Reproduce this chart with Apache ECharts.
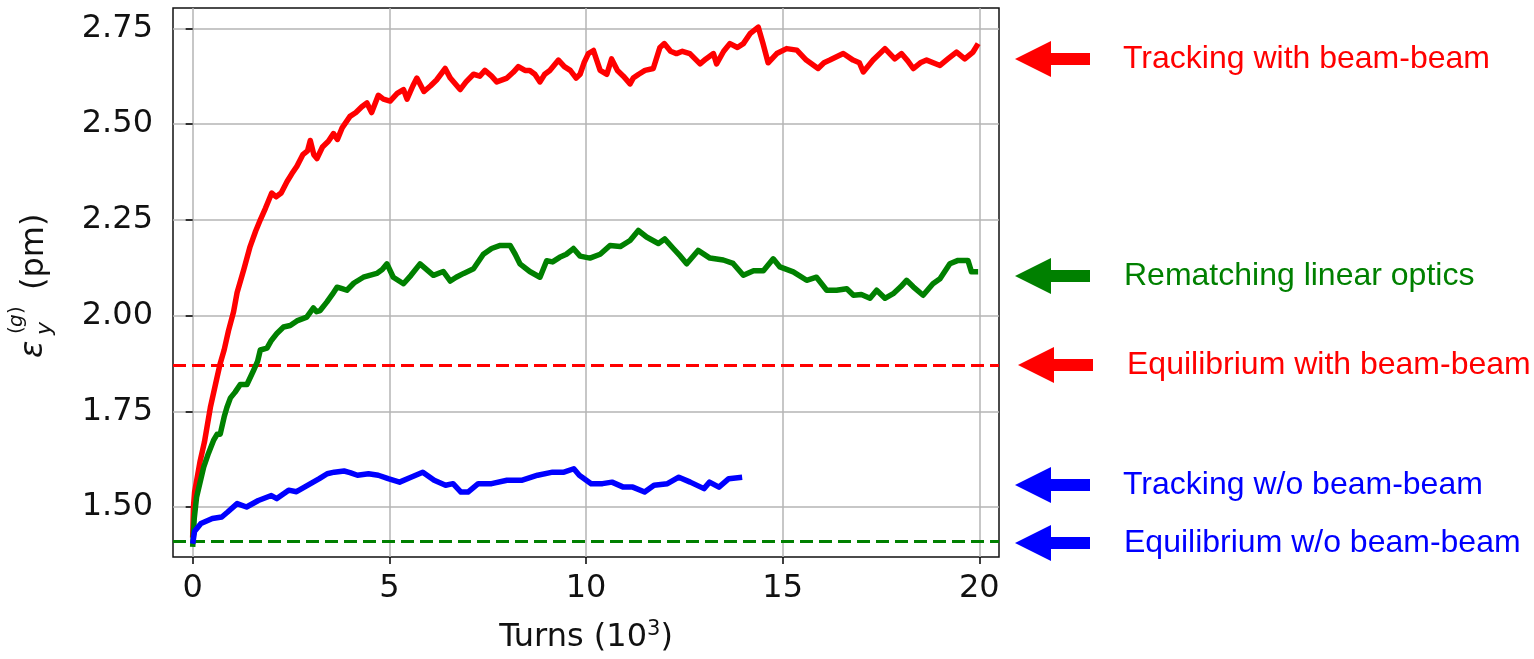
<!DOCTYPE html>
<html>
<head>
<meta charset="utf-8">
<script src="https://cdn.jsdelivr.net/npm/echarts@6/dist/echarts.min.js"></script>
<style>
  html, body { margin: 0; padding: 0; background: #ffffff; }
  #chart { width: 1534px; height: 659px; }
</style>
</head>
<body>
<div id="chart"></div>
<script>
// Vertical emittance growth vs. turns (values in pm, turns in units of 10^3)
const turnTicks = [0, 5, 10, 15, 20];
const epsTicks = [1.50, 1.75, 2.00, 2.25, 2.50, 2.75];

const equilibriumWithBB = 1.874;
const equilibriumWithoutBB = 1.4105;

// Tracking with beam-beam
const redTurns = [0, 0.02, 0.05, 0.12, 0.19, 0.3, 0.45, 0.58, 0.70, 0.8, 0.91, 1.04, 1.13, 1.3, 1.46, 1.6, 1.72, 1.85, 2.01, 2.12, 2.25, 2.4, 2.52, 2.65, 2.8, 2.92, 2.99, 3.08, 3.16, 3.3, 3.45, 3.58, 3.68, 3.8, 4.0, 4.15, 4.3, 4.43, 4.55, 4.72, 4.85, 5.02, 5.2, 5.36, 5.45, 5.6, 5.7, 5.88, 6.05, 6.2, 6.42, 6.55, 6.8, 6.95, 7.14, 7.3, 7.43, 7.6, 7.73, 7.99, 8.15, 8.28, 8.45, 8.57, 8.7, 8.83, 8.95, 9.08, 9.30, 9.45, 9.6, 9.75, 9.85, 9.95, 10.06, 10.19, 10.36, 10.53, 10.65, 10.8, 10.95, 11.12, 11.2, 11.34, 11.5, 11.71, 11.88, 11.99, 12.15, 12.3, 12.45, 12.64, 12.9, 13.05, 13.24, 13.32, 13.5, 13.66, 13.85, 14.0, 14.17, 14.38, 14.5, 14.63, 14.85, 15.1, 15.36, 15.6, 15.9, 16.05, 16.2, 16.54, 16.79, 16.95, 17.05, 17.3, 17.6, 17.85, 18.02, 18.18, 18.32, 18.5, 18.66, 19.0, 19.2, 19.42, 19.63, 19.84, 19.97];
const redEps = [1.42, 1.50, 1.54, 1.58, 1.62, 1.67, 1.76, 1.82, 1.875, 1.91, 1.96, 2.01, 2.06, 2.12, 2.18, 2.22, 2.25, 2.28, 2.32, 2.31, 2.32, 2.35, 2.37, 2.39, 2.42, 2.43, 2.457, 2.42, 2.41, 2.44, 2.455, 2.475, 2.46, 2.49, 2.52, 2.53, 2.545, 2.555, 2.53, 2.575, 2.565, 2.56, 2.58, 2.59, 2.565, 2.60, 2.62, 2.585, 2.60, 2.615, 2.645, 2.62, 2.59, 2.61, 2.63, 2.625, 2.64, 2.625, 2.61, 2.62, 2.635, 2.65, 2.64, 2.64, 2.63, 2.61, 2.63, 2.64, 2.667, 2.65, 2.64, 2.62, 2.63, 2.66, 2.684, 2.692, 2.64, 2.63, 2.67, 2.64, 2.625, 2.605, 2.62, 2.63, 2.64, 2.645, 2.70, 2.71, 2.69, 2.684, 2.69, 2.684, 2.657, 2.67, 2.684, 2.657, 2.69, 2.71, 2.70, 2.71, 2.736, 2.753, 2.71, 2.66, 2.684, 2.697, 2.693, 2.667, 2.645, 2.66, 2.667, 2.684, 2.667, 2.66, 2.636, 2.667, 2.697, 2.67, 2.684, 2.665, 2.645, 2.66, 2.667, 2.653, 2.67, 2.688, 2.67, 2.688, 2.71];

// Rematching linear optics
const greenTurns = [0, 0.04, 0.1, 0.28, 0.4, 0.53, 0.62, 0.70, 0.8, 0.87, 0.96, 1.08, 1.21, 1.38, 1.55, 1.65, 1.72, 1.89, 2.0, 2.14, 2.31, 2.48, 2.65, 2.9, 3.07, 3.15, 3.24, 3.41, 3.55, 3.67, 3.8, 3.92, 4.1, 4.34, 4.5, 4.68, 4.82, 4.94, 5.1, 5.36, 5.55, 5.78, 5.95, 6.12, 6.37, 6.55, 6.7, 6.89, 7.14, 7.39, 7.6, 7.82, 8.07, 8.2, 8.32, 8.57, 8.83, 9.0, 9.15, 9.33, 9.5, 9.68, 9.85, 10.1, 10.36, 10.61, 10.87, 11.12, 11.33, 11.54, 11.84, 12.0, 12.22, 12.4, 12.56, 12.85, 13.15, 13.49, 13.74, 14.0, 14.26, 14.51, 14.76, 14.93, 15.27, 15.61, 15.86, 16.12, 16.37, 16.63, 16.8, 17.0, 17.22, 17.39, 17.6, 17.81, 18.0, 18.15, 18.32, 18.57, 18.82, 19.0, 19.25, 19.46, 19.71, 19.8, 19.97];
const greenEps = [1.396, 1.47, 1.526, 1.604, 1.64, 1.674, 1.69, 1.69, 1.735, 1.76, 1.785, 1.80, 1.82, 1.82, 1.857, 1.88, 1.91, 1.915, 1.935, 1.953, 1.97, 1.974, 1.986, 1.996, 2.02, 2.01, 2.013, 2.035, 2.055, 2.074, 2.07, 2.066, 2.085, 2.10, 2.105, 2.11, 2.12, 2.135, 2.10, 2.083, 2.105, 2.135, 2.12, 2.105, 2.115, 2.09, 2.10, 2.11, 2.122, 2.16, 2.175, 2.183, 2.183, 2.16, 2.135, 2.115, 2.10, 2.143, 2.14, 2.152, 2.16, 2.175, 2.155, 2.15, 2.16, 2.183, 2.18, 2.196, 2.222, 2.205, 2.188, 2.20, 2.175, 2.155, 2.135, 2.17, 2.15, 2.145, 2.136, 2.105, 2.117, 2.117, 2.148, 2.127, 2.114, 2.092, 2.10, 2.066, 2.066, 2.07, 2.053, 2.055, 2.045, 2.066, 2.045, 2.057, 2.075, 2.092, 2.075, 2.053, 2.083, 2.096, 2.135, 2.144, 2.144, 2.114, 2.114];

// Tracking without beam-beam
const blueTurns = [0, 0.05, 0.21, 0.5, 0.74, 0.89, 1.13, 1.37, 1.67, 2.0, 2.14, 2.44, 2.64, 2.93, 3.22, 3.42, 3.6, 3.85, 4.0, 4.19, 4.47, 4.72, 4.97, 5.26, 5.55, 5.85, 6.14, 6.43, 6.62, 6.82, 7.0, 7.26, 7.6, 7.99, 8.38, 8.77, 9.15, 9.44, 9.69, 9.83, 10.13, 10.42, 10.66, 10.95, 11.19, 11.49, 11.73, 12.07, 12.36, 12.65, 13.0, 13.14, 13.38, 13.63, 13.97];
const blueEps = [1.404, 1.437, 1.457, 1.47, 1.474, 1.487, 1.509, 1.50, 1.517, 1.53, 1.522, 1.544, 1.54, 1.557, 1.574, 1.587, 1.591, 1.594, 1.59, 1.583, 1.587, 1.583, 1.574, 1.565, 1.578, 1.591, 1.57, 1.557, 1.561, 1.539, 1.539, 1.561, 1.561, 1.57, 1.57, 1.583, 1.591, 1.591, 1.60, 1.583, 1.561, 1.561, 1.565, 1.552, 1.552, 1.539, 1.557, 1.561, 1.578, 1.565, 1.548, 1.565, 1.552, 1.574, 1.578];

// Side annotations (top to bottom)
const noteLabels = ['Tracking with beam-beam', 'Rematching linear optics', 'Equilibrium with beam-beam', 'Tracking w/o beam-beam', 'Equilibrium w/o beam-beam'];

const RED = '#ff0000', GREEN = '#008000', BLUE = '#0000ff';
const INK = '#111111';
const noteColors = [RED, GREEN, RED, BLUE, BLUE];
const noteLayout = [
  { tip: 1015, cy: 59, tx: 1123 },
  { tip: 1015, cy: 276, tx: 1124 },
  { tip: 1018, cy: 365, tx: 1127 },
  { tip: 1015, cy: 485, tx: 1123 },
  { tip: 1015, cy: 543, tx: 1124 }
];

const zip = (xs, ys) => xs.map((x, i) => [x, ys[i]]);

function arrowPoints(tip, cy) {
  const head = 36, half = 18, shaft = 6, len = 75;
  return [[tip, cy], [tip + head, cy - half], [tip + head, cy - shaft], [tip + len, cy - shaft],
          [tip + len, cy + shaft], [tip + head, cy + shaft], [tip + head, cy + half]];
}

const MPL_FONT = 'DejaVu Sans';
const NOTE_FONT = 'Liberation Sans';

const graphics = [];
noteLabels.forEach((label, i) => {
  const L = noteLayout[i];
  graphics.push({
    type: 'polygon', silent: true,
    shape: { points: arrowPoints(L.tip, L.cy) },
    style: { fill: noteColors[i] }
  });
  graphics.push({
    type: 'text', silent: true, x: L.tx, y: L.cy,
    style: { text: label, fill: noteColors[i], font: '32px "' + NOTE_FONT + '"',
             textAlign: 'left', textVerticalAlign: 'middle' }
  });
});

// y-axis title: epsilon_y^(g) (pm), rotated to read bottom-up
const mathText = (text, x, y, font) => ({
  type: 'text', x: x, y: y,
  style: { text: text, font: font, fill: INK, textAlign: 'left', textVerticalAlign: 'middle' }
});
graphics.push({
  type: 'group', x: 46, y: 357, rotation: Math.PI / 2, silent: true,
  children: [
    mathText('ε', -1, -12.5, 'italic 32px "DejaVu Sans"'),
    mathText('y', 22, -0.5, 'italic 22px "DejaVu Sans"'),
    mathText('(', 23, -29, '20px "DejaVu Sans"'),
    mathText('g', 30, -29, 'italic 20px "DejaVu Sans"'),
    mathText(')', 43, -29, '20px "DejaVu Sans"'),
    mathText('(pm)', 67, -11, '32px "DejaVu Sans"')
  ]
});

const chart = echarts.init(document.getElementById('chart'), null, { renderer: 'canvas' });

const axisCommon = {
  type: 'value',
  axisLine: { show: false },
  axisTick: { show: true, inside: false, length: 7, lineStyle: { color: '#000', width: 1.5 } },
  splitLine: { show: true, lineStyle: { color: '#b4b4b4', width: 1.5 } }
};

chart.setOption({
  animation: false,
  backgroundColor: '#ffffff',
  grid: { left: 173, right: 535, top: 8, bottom: 102, show: true, borderColor: '#111', borderWidth: 1.5, backgroundColor: 'transparent' },
  xAxis: Object.assign({}, axisCommon, {
    min: -0.5, max: 20.5,
    axisTick: Object.assign({}, axisCommon.axisTick, { customValues: turnTicks }),
    axisLabel: { customValues: turnTicks, fontFamily: MPL_FONT, fontSize: 32, color: INK, margin: 16 },
    name: '{main|Turns (10}{sup|3}{main|)}', nameLocation: 'middle', nameGap: 62,
    nameTextStyle: { fontFamily: MPL_FONT, fontSize: 32, color: INK,
      rich: {
        main: { fontFamily: MPL_FONT, fontSize: 32, color: INK, lineHeight: 38 },
        sup: { fontFamily: MPL_FONT, fontSize: 21, color: INK, lineHeight: 24, verticalAlign: 'top' }
      } }
  }),
  yAxis: Object.assign({}, axisCommon, {
    min: 1.3695, max: 2.803,
    axisTick: Object.assign({}, axisCommon.axisTick, { customValues: epsTicks }),
    axisLabel: { customValues: epsTicks, fontFamily: MPL_FONT, fontSize: 32, color: INK, margin: 20,
                 formatter: v => v.toFixed(2) }
  }),
  graphic: graphics,
  series: [
    {
      name: 'Tracking with beam-beam', type: 'line', color: RED,
      data: zip(redTurns, redEps), symbol: 'none', z: 4,
      lineStyle: { color: RED, width: 5.5, join: 'round' },
      markLine: { silent: true, symbol: 'none', label: { show: false }, z: 2,
        lineStyle: { color: RED, type: [13, 6], width: 3.2 },
        data: [{ yAxis: equilibriumWithBB }] }
    },
    {
      name: 'Rematching linear optics', type: 'line', color: GREEN,
      data: zip(greenTurns, greenEps), symbol: 'none', z: 4,
      lineStyle: { color: GREEN, width: 5.5, join: 'round' },
      markLine: { silent: true, symbol: 'none', label: { show: false }, z: 2,
        lineStyle: { color: GREEN, type: [13, 6], width: 3.2 },
        data: [{ yAxis: equilibriumWithoutBB }] }
    },
    {
      name: 'Tracking w/o beam-beam', type: 'line', color: BLUE,
      data: zip(blueTurns, blueEps), symbol: 'none', z: 4,
      lineStyle: { color: BLUE, width: 5.5, join: 'round' }
    }
  ]
});
</script>
</body>
</html>
